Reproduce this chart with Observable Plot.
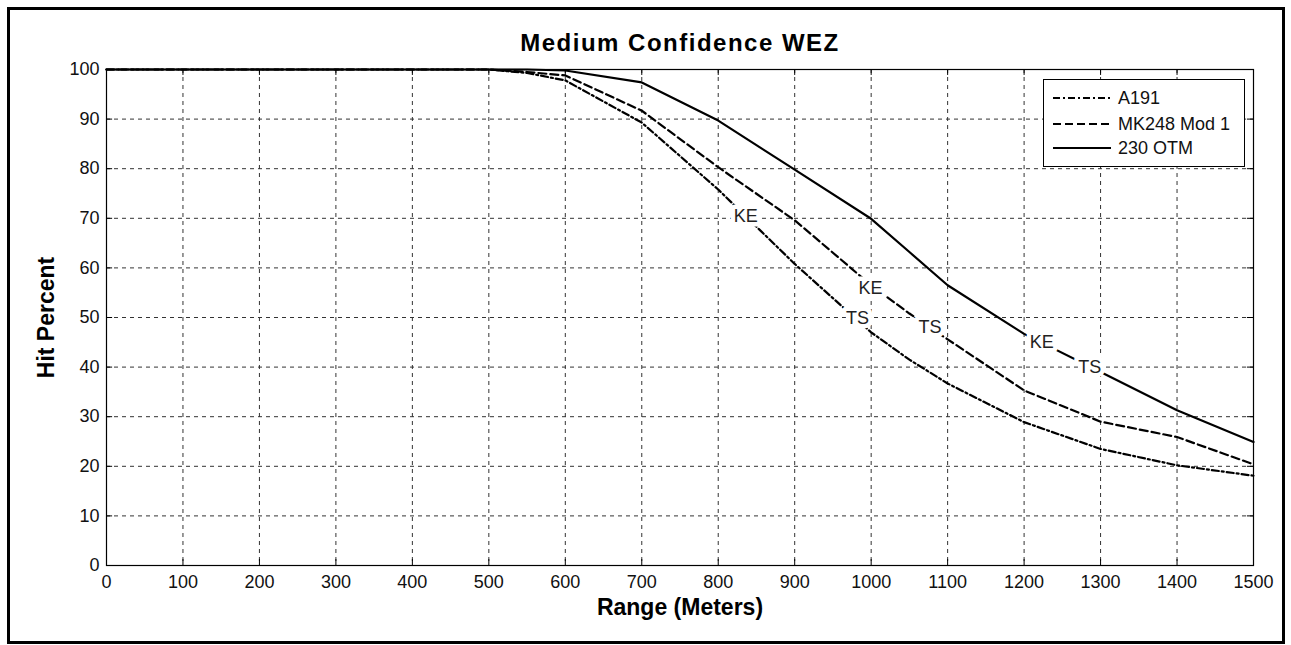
<!DOCTYPE html>
<html>
<head>
<meta charset="utf-8">
<script src="https://cdn.jsdelivr.net/npm/d3@7"></script>
<script src="https://cdn.jsdelivr.net/npm/@observablehq/plot@0.6"></script>
<style>
  html, body { margin: 0; padding: 0; background: #fff; }
  #wrap { position: relative; width: 1291px; height: 645px; overflow: hidden; font-family: "Liberation Sans", Arial, sans-serif; }
  #border { position: absolute; left: 7px; top: 7px; width: 1278px; height: 637px; box-sizing: border-box; border: 3px solid #000; pointer-events: none; }
  #legend { position: absolute; left: 1043px; top: 79px; width: 202px; height: 88px; box-sizing: border-box; border: 1px solid #000; background: #fff; }
  #legend .row { position: absolute; left: 0; height: 24px; display: flex; align-items: center; font-size: 18px; color: #111; }
  #legend svg { margin-left: 9px; margin-right: 7px; }
</style>
</head>
<body>
<div id="wrap">
  <div id="chart"></div>
  <div id="legend"></div>
  <div id="border"></div>
</div>
<script>
// ---- data ----
const title = "Medium Confidence WEZ";
const xLabel = "Range (Meters)";
const yLabel = "Hit Percent";
const xTicks = [0,100,200,300,400,500,600,700,800,900,1000,1100,1200,1300,1400,1500];
const yTicks = [0,10,20,30,40,50,60,70,80,90,100];

const rangeM  = [0, 500, 550, 600, 700, 800, 900, 1000, 1050, 1100, 1200, 1300, 1400, 1500];
const a191    = [100, 100, 99.3, 97.8, 89.3, 75.8, 60.8, 47.0, 41.5, 36.7, 28.9, 23.5, 20.2, 18.1];
const mk248   = [100, 100, 99.5, 98.8, 91.7, 80.3, 69.6, 56.5, 50.8, 45.6, 35.3, 29.0, 25.9, 20.4];
const otm230  = [100, 100, 100, 99.8, 97.4, 89.7, 79.8, 69.9, 63.2, 56.5, 46.7, 39.0, 31.3, 24.9];

const seriesNames = ["A191", "MK248 Mod 1", "230 OTM"];
const seriesDash  = ["7,3,2,3", "8,4", null];

const labelText = ["KE", "TS", "KE", "TS", "KE", "TS"];
const labelX    = [836, 982, 999, 1077, 1223, 1286];
const labelY    = [70.4, 49.9, 55.8, 48.0, 45.0, 40.0];

// ---- build tables ----
const seriesValues = [a191, mk248, otm230];
const lineData = seriesNames.map((name, i) => rangeM.map((r, j) => ({range: r, hit: seriesValues[i][j], name})));
const labels = labelText.map((t, i) => ({t, x: labelX[i], y: labelY[i]}));

const font = "'Liberation Sans', Arial, sans-serif";

const marks = [
  Plot.gridX(xTicks, {stroke: "#333", strokeOpacity: 1, strokeDasharray: "4,4", strokeWidth: 1}),
  Plot.gridY(yTicks, {stroke: "#333", strokeOpacity: 1, strokeDasharray: "4,4", strokeWidth: 1}),
  // inward ticks on all four sides
  Plot.ruleX(xTicks, {x: d => d, y1: 0, y2: 1.2, stroke: "#000"}),
  Plot.ruleX(xTicks, {x: d => d, y1: 98.8, y2: 100, stroke: "#000"}),
  Plot.ruleY(yTicks, {y: d => d, x1: 0, x2: 8, stroke: "#000"}),
  Plot.ruleY(yTicks, {y: d => d, x1: 1492, x2: 1500, stroke: "#000"}),
  ...lineData.map((d, i) => Plot.line(d, {x: "range", y: "hit", stroke: "#000", strokeWidth: 2.2, strokeDasharray: seriesDash[i]})),
  Plot.text(labels, {x: "x", y: "y", text: "t", fontSize: 18, fill: "#222", stroke: "#fff", strokeWidth: 9, paintOrder: "stroke"}),
  Plot.frame({stroke: "#000", strokeWidth: 1.2}),
  Plot.axisX(xTicks, {anchor: "bottom", tickSize: 0, tickPadding: 10, fontSize: 18, label: null, tickFormat: d => String(d)}),
  Plot.axisY(yTicks, {anchor: "left", tickSize: 0, tickPadding: 7, fontSize: 18, label: null, tickFormat: d => String(d)}),
  Plot.text([title], {frameAnchor: "top", dy: -26, lineAnchor: "middle", textAnchor: "middle", fontSize: 24, fontWeight: "bold", fill: "#000"}),
  Plot.text([xLabel], {frameAnchor: "bottom", dy: 42, lineAnchor: "middle", textAnchor: "middle", fontSize: 23, fontWeight: "bold", fill: "#000"}),
  Plot.text([yLabel], {frameAnchor: "left", dx: -60, rotate: -90, lineAnchor: "middle", textAnchor: "middle", fontSize: 23, fontWeight: "bold", fill: "#000"})
];

const chart = Plot.plot({
  width: 1291,
  height: 645,
  marginLeft: 106,
  marginRight: 38,
  marginTop: 69,
  marginBottom: 80,
  style: {fontFamily: font, fontSize: "18px", color: "#111", background: "#fff"},
  x: {domain: [0, 1500], label: null},
  y: {domain: [0, 100], label: null},
  marks
});
document.getElementById("chart").appendChild(chart);
d3.select(chart).selectAll("text").filter(function() { return this.textContent === title; })
  .attr("letter-spacing", "1.5px");

// ---- legend ----
const legend = document.getElementById("legend");
const rowTops = [6, 32, 56];
seriesNames.forEach((name, i) => {
  const row = document.createElement("div");
  row.className = "row";
  row.style.top = rowTops[i] + "px";
  const svg = d3.create("svg").attr("width", 58).attr("height", 10);
  svg.append("line").attr("x1", 0).attr("x2", 58).attr("y1", 5).attr("y2", 5)
    .attr("stroke", "#000").attr("stroke-width", 2)
    .attr("stroke-dasharray", seriesDash[i]);
  row.appendChild(svg.node());
  const span = document.createElement("span");
  span.textContent = name;
  row.appendChild(span);
  legend.appendChild(row);
});
</script>
</body>
</html>
